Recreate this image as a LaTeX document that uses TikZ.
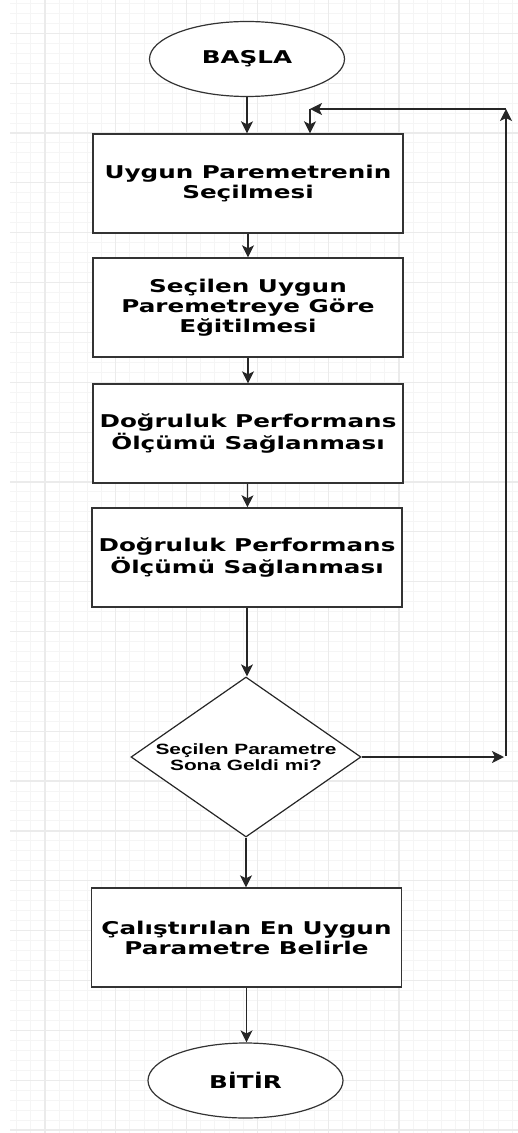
\documentclass[tikz,border=0pt]{standalone}
\usepackage{fontspec}
\usetikzlibrary{shapes.geometric,arrows.meta}

\newfontfamily\boxfont[FakeStretch=1.4]{DejaVu Sans}
\newfontfamily\decfont[FakeStretch=1.4]{Liberation Sans}

\begin{document}
\begin{tikzpicture}[x=0.5pt,y=-0.5pt,
    arr/.style={-{Stealth[length=6pt,width=6pt,inset=1.5pt]},line width=0.6pt,black!85},
    stepbox/.style={draw=black!80,line width=0.7pt,fill=white,minimum width=155pt,minimum height=49.5pt,
        inner sep=0pt,align=center,font={\boxfont\bfseries\fontsize{8.8}{10}\selectfont}},
    term/.style={ellipse,draw=black!80,line width=0.6pt,fill=white,minimum width=97.5pt,minimum height=37.5pt,
        inner sep=0pt,font={\boxfont\bfseries\fontsize{8.8}{10}\selectfont}},
    decision/.style={diamond,aspect=1.44,draw=black!85,line width=0.6pt,fill=white,minimum width=115pt,minimum height=80pt,
        inner sep=0pt,align=center,font={\decfont\bfseries\fontsize{7.45}{8}\selectfont}}]
    \useasboundingbox (0,0) rectangle (518,1133);

    \foreach \i in {0,...,35} \draw[black!4,line width=0.5pt] ({16.7+14.16*\i},0)--({16.7+14.16*\i},1133);
    \foreach \j in {0,...,113} \draw[black!4,line width=0.5pt] (10,{3.4+9.97*\j})--(518,{3.4+9.97*\j});
    \foreach \i in {0,...,6} \draw[black!8,line width=0.6pt] ({45+70.8*\i},0)--({45+70.8*\i},1133);
    \foreach \j in {0,...,22} \draw[black!8,line width=0.6pt] (10,{33.3+49.85*\j})--(518,{33.3+49.85*\j});

    \node[term] (start) at (247,59) {BAŞLA};
    \node[stepbox] (b1) at (248,183.5) {Uygun Paremetrenin\\Seçilmesi};
    \node[stepbox] (b2) at (248,307.5) {Seçilen Uygun\\Paremetreye Göre\\Eğitilmesi};
    \node[stepbox] (b3) at (248,433.5) {Doğruluk Performans\\Ölçümü Sağlanması};
    \node[stepbox] (b4) at (247,557.5) {Doğruluk Performans\\Ölçümü Sağlanması};
    \node[decision] (dec) at (246,757) {Seçilen Parametre\\Sona Geldi mi?};
    \node[stepbox] (b5) at (246.5,937.5) {Çalıştırılan En Uygun\\Parametre Belirle};
    \node[term] (stop) at (245.5,1080.5) {BİTİR};

    \draw[arr](start)--(start|-b1.north);
    \draw[arr](b1)--(b2);
    \draw[arr](b2)--(b3);
    \draw[arr](b3)--(b4);
    \draw[arr](b4.south)--(b4.south|-dec.north);
    \draw[arr](dec)--(dec|-b5.north);
    \draw[arr](b5)--(b5|-stop.north);

    \coordinate (r1) at (504,757);
    \coordinate (r2) at (506,756);
    \coordinate (r3) at (506,109);
    \coordinate (r4) at (310,109);
    \draw[arr](dec.east)--(r1);
    \draw[arr](r2)--(r3);
    \draw[arr](r3)--(r4);
    \draw[arr](r4)--(r4|-b1.north);
\end{tikzpicture}
\end{document}
